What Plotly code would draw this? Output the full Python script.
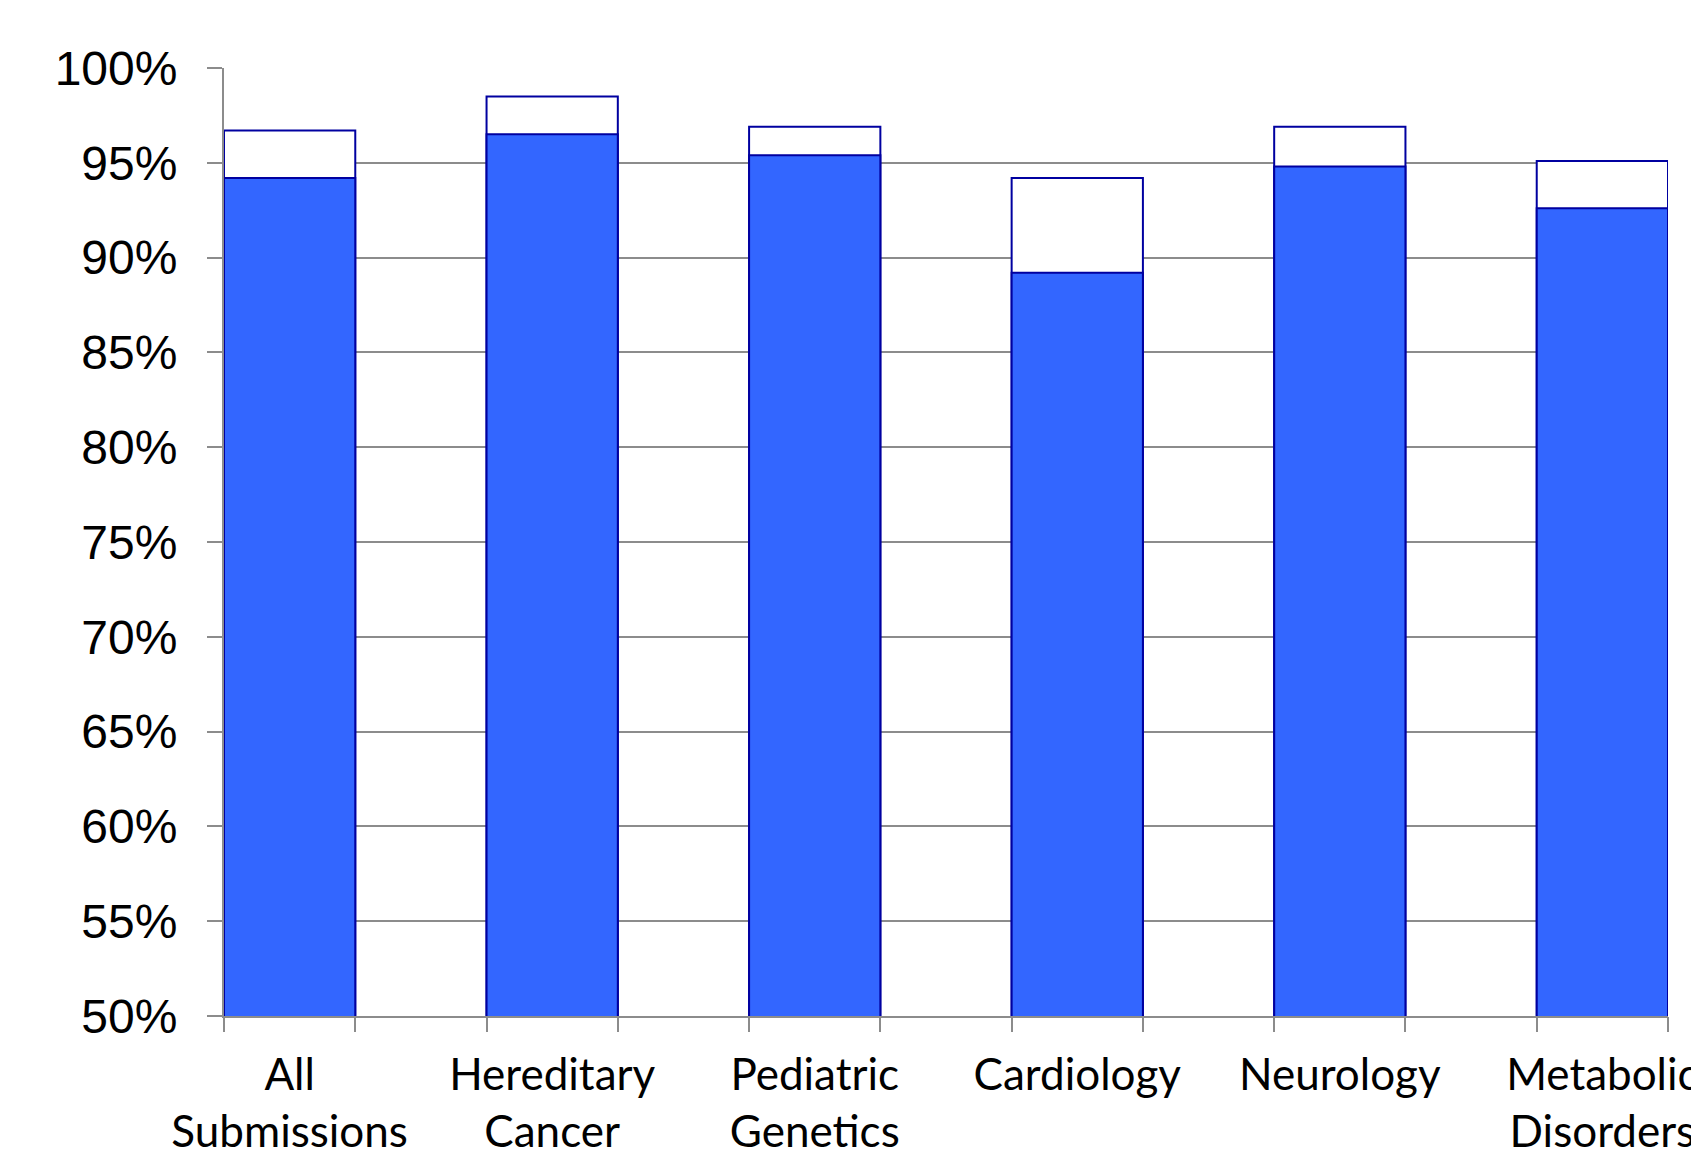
import plotly.graph_objects as go

# Category labels and the two stacked levels per category (percent)
categories = ["All<br>Submissions", "Hereditary<br>Cancer", "Pediatric<br>Genetics",
              "Cardiology", "Neurology", "Metabolic<br>Disorders"]
lower_pct = [94.2, 96.5, 95.4, 89.2, 94.8, 92.6]
upper_pct = [96.7, 98.5, 96.9, 94.2, 96.9, 95.1]
y_ticks = [50, 55, 60, 65, 70, 75, 80, 85, 90, 95, 100]
y_tick_text = [f"{v}%" for v in y_ticks]

x_pos = list(range(len(categories)))
bar_w = 0.5
edge_ticks = [p + s * bar_w / 2 for p in x_pos for s in (-1, 1)]

outline = dict(color="#0000A0", width=2)
grey = "#8c8c8c"

fig = go.Figure()
# Upper level drawn behind (white), lower level drawn in front (blue)
fig.add_trace(go.Bar(x=x_pos, y=upper_pct, width=bar_w,
                     marker=dict(color="white", line=outline), showlegend=False))
fig.add_trace(go.Bar(x=x_pos, y=lower_pct, width=bar_w,
                     marker=dict(color="#3366FF", line=outline), showlegend=False))
# Invisible trace to carry the secondary x axis holding the bar-edge ticks
fig.add_trace(go.Scatter(x=[x_pos[0]], y=[50], xaxis="x2", mode="markers",
                         marker=dict(opacity=0), showlegend=False, hoverinfo="skip"))

x_range = [-bar_w / 2, x_pos[-1] + bar_w / 2]

fig.update_layout(
    width=1691, height=1150,
    margin=dict(l=224, r=23, t=68, b=134, autoexpand=False),
    plot_bgcolor="white", paper_bgcolor="white",
    barmode="overlay",
    xaxis=dict(
        range=x_range, tickmode="array", tickvals=x_pos, ticktext=categories,
        ticks="", showgrid=False, zeroline=False, automargin=False,
        showline=True, linecolor=grey, linewidth=2,
        tickfont=dict(family="Lato", size=44, color="black"),
        ticklabelstandoff=19, ticklabeloverflow="allow",
    ),
    xaxis2=dict(
        range=x_range, overlaying="x", anchor="y", side="bottom",
        tickmode="array", tickvals=edge_ticks, ticks="outside", ticklen=15,
        tickwidth=2, tickcolor=grey, showticklabels=False, showgrid=False,
        zeroline=False, showline=False, automargin=False,
    ),
    yaxis=dict(
        range=[50, 100], tickmode="array", tickvals=y_ticks, ticktext=y_tick_text,
        ticks="outside", ticklen=15, tickwidth=2, tickcolor=grey,
        showgrid=True, gridcolor=grey, gridwidth=2, zeroline=False,
        showline=True, linecolor=grey, linewidth=2, automargin=False,
        tickfont=dict(family="Liberation Sans", size=48, color="black"),
        ticklabelstandoff=20,
    ),
)

fig.write_html("out.html")
